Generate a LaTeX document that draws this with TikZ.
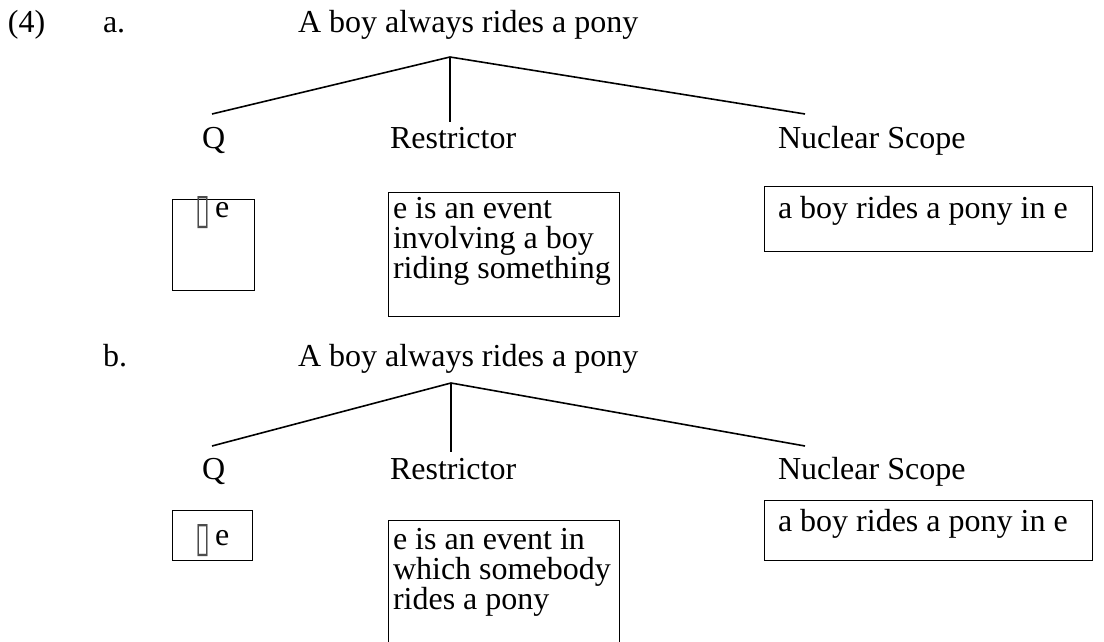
\documentclass[tikz,border=0pt]{standalone}
\usepackage{fontspec}
\setmainfont{Liberation Serif}
\newfontfamily\tofufont{DejaVu Sans}
\newcommand{\tofuglyph}{\textcolor{black!70}{\raisebox{-6pt}{\resizebox{15pt}{27pt}{\tofufont ▯}}}\hspace{5pt}}
\tikzset{
  txt/.style={inner sep=0pt, outer sep=0pt, anchor=base west, font=\fontsize{32}{30}\selectfont},
  boxed/.style={draw, line width=1.4pt, inner sep=0pt, anchor=north west},
  branch/.style={line width=1.6pt},
}
\begin{document}
\begin{tikzpicture}[x=1pt,y=-1pt]
\useasboundingbox (0,0) rectangle (1104,642);
% ---------- part a ----------
\node[txt] (num) at (8,33) {(4)};
\node[txt] (la) at (103,33) {a.};
\node[txt] (sa) at (298,33) {A boy always rides a pony};
\coordinate (apexa) at (450,57);
\node[txt] (qa) at (202,148) {Q};
\node[txt] (ra) at (390,148) {Restrictor};
\node[txt] (na) at (778,148) {Nuclear Scope};
\coordinate (qla) at (212,114);
\coordinate (rla) at (450,122);
\coordinate (nla) at (805,114);
\draw[branch] (qla) -- (apexa) -- (nla);
\draw[branch] (apexa) -- (rla);
\node[boxed, minimum width=82pt, minimum height=91pt] (qboxa) at (172,199) {};
\node[txt] (qta) at (195,217) {\tofuglyph e};
\node[boxed, minimum width=231pt, minimum height=124pt] (rboxa) at (388,192) {};
\node[txt] (rta1) at (393,218) {e is an event};
\node[txt] (rta2) at (393,248) {involving a boy};
\node[txt] (rta3) at (393,278) {riding something};
\node[boxed, minimum width=328pt, minimum height=65pt] (nboxa) at (764,186) {};
\node[txt] (nta) at (778,218) {a boy rides a pony in e};
% ---------- part b ----------
\node[txt] (lb) at (103,366) {b.};
\node[txt] (sb) at (298,366) {A boy always rides a pony};
\coordinate (apexb) at (451,383);
\node[txt] (qb) at (202,479) {Q};
\node[txt] (rb) at (390,479) {Restrictor};
\node[txt] (nb) at (778,479) {Nuclear Scope};
\coordinate (qlb) at (212,446);
\coordinate (rlb) at (451,452);
\coordinate (nlb) at (805,446);
\draw[branch] (qlb) -- (apexb) -- (nlb);
\draw[branch] (apexb) -- (rlb);
\node[boxed, minimum width=80pt, minimum height=50pt] (qboxb) at (172,510) {};
\node[txt] (qtb) at (195,545) {\tofuglyph e};
\node[boxed, minimum width=231pt, minimum height=124pt] (rboxb) at (388,520) {};
\node[txt] (rtb1) at (393,549) {e is an event in};
\node[txt] (rtb2) at (393,579) {which somebody};
\node[txt] (rtb3) at (393,609) {rides a pony};
\node[boxed, minimum width=328pt, minimum height=60pt] (nboxb) at (764,500) {};
\node[txt] (ntb) at (778,531) {a boy rides a pony in e};
\end{tikzpicture}
\end{document}
